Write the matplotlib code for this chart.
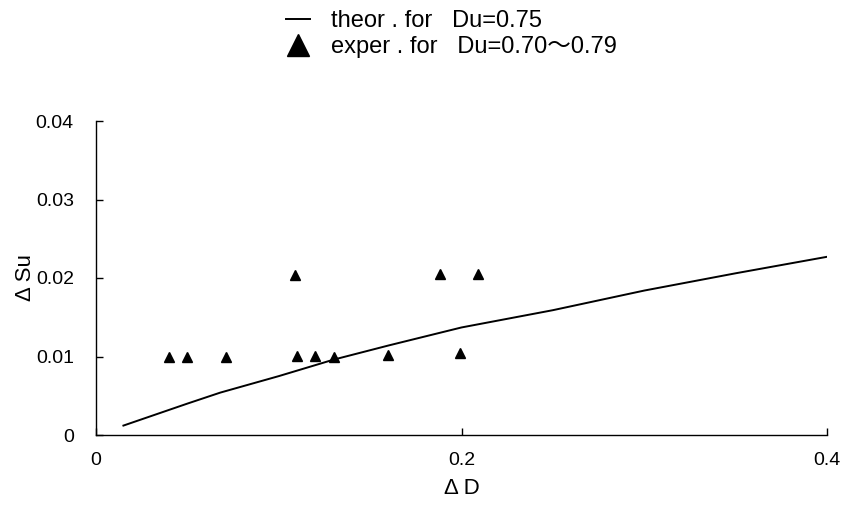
import matplotlib
matplotlib.use("Agg")
import matplotlib.pyplot as plt

# ==============================
# Data
# ==============================
theor_dd = [0.015, 0.05, 0.068, 0.10, 0.13, 0.15, 0.16, 0.20, 0.25, 0.30, 0.35, 0.40]
theor_dsu = [0.0012, 0.0040, 0.0054, 0.0075, 0.0096, 0.0108, 0.0114, 0.0137, 0.0159, 0.0184, 0.0206, 0.0227]

exper_dd = [0.040, 0.050, 0.071, 0.109, 0.110, 0.120, 0.130, 0.160, 0.188, 0.199, 0.209]
exper_dsu = [0.0100, 0.0100, 0.0100, 0.0204, 0.0101, 0.0101, 0.0100, 0.0102, 0.0205, 0.0104, 0.0205]

x_ticks = [0, 0.2, 0.4]
x_labels = ["0", "0.2", "0.4"]
y_ticks = [0, 0.01, 0.02, 0.03, 0.04]
y_labels = ["0", "0.01", "0.02", "0.03", "0.04"]

plt.rcParams['font.family'] = ['Liberation Sans', 'Noto Sans CJK JP', 'DejaVu Sans']

fig = plt.figure(figsize=(8.47, 5.05), dpi=100)
ax = fig.add_axes([96 / 847, 70 / 505, 731 / 847, 314 / 505])

ax.plot(theor_dd, theor_dsu, color='black', lw=1.4,
        label="theor . for   Du=0.75")
ax.plot(exper_dd, exper_dsu, linestyle='none', marker='^', color='black',
        markersize=7, label="exper . for   Du=0.70\uff5e0.79")

ax.set_xlim(0, 0.4)
ax.set_ylim(0, 0.04)
ax.set_xticks(x_ticks)
ax.set_xticklabels(x_labels)
ax.set_yticks(y_ticks)
ax.set_yticklabels(y_labels)

for side in ('top', 'right'):
    ax.spines[side].set_visible(False)
for side in ('left', 'bottom'):
    ax.spines[side].set_linewidth(1.0)

ax.tick_params(axis='both', direction='in', length=5, width=1.0, labelsize=14)
ax.tick_params(axis='y', pad=16)
ax.tick_params(axis='x', pad=12)

ax.set_xlabel("\u0394 D", fontsize=16, labelpad=7)
ax.set_ylabel("\u0394 Su", fontsize=16, labelpad=0)

fig.legend(loc='upper left', bbox_to_anchor=(284 / 847, 1 - 8 / 505),
           frameon=False, fontsize=17, handlelength=1.0, handletextpad=0.9,
           labelspacing=0.15, markerscale=2.2, borderaxespad=0, borderpad=0.1)

fig.savefig("out.png", dpi=100)
